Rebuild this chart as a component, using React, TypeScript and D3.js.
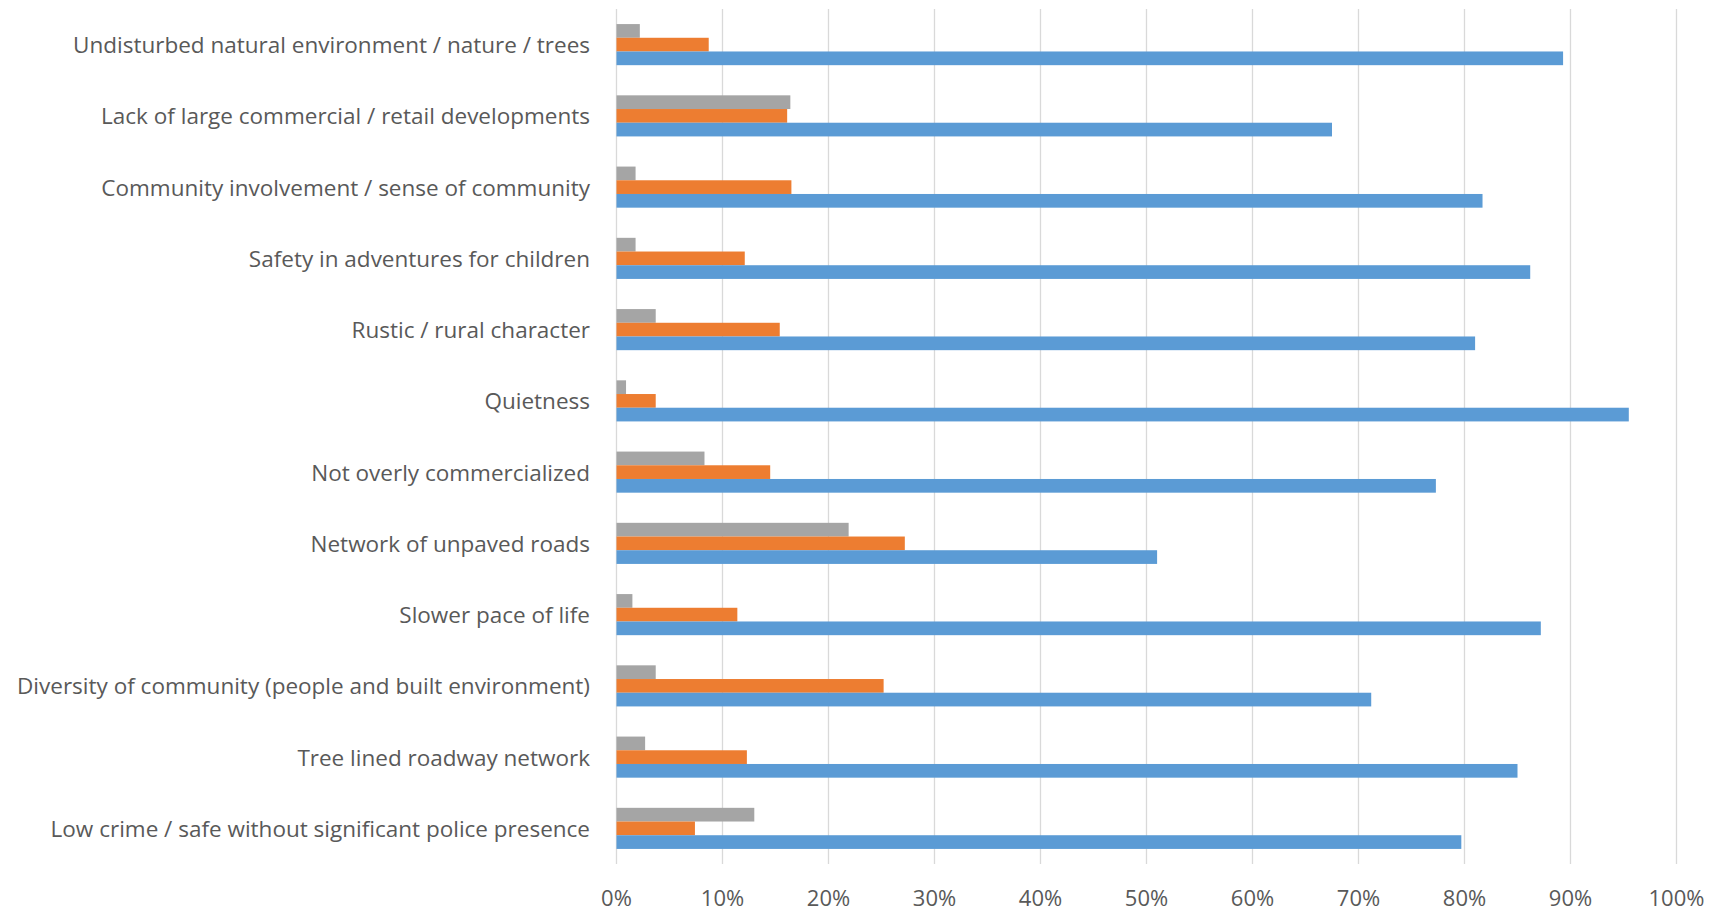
import React from "react";
import * as d3 from "d3";

const categories: string[] = [
  "Undisturbed natural environment / nature / trees",
  "Lack of large commercial / retail developments",
  "Community involvement / sense of community",
  "Safety in adventures for children",
  "Rustic / rural character",
  "Quietness",
  "Not overly commercialized",
  "Network of unpaved roads",
  "Slower pace of life",
  "Diversity of community (people and built environment)",
  "Tree lined roadway network",
  "Low crime / safe without significant police presence",
];

const blueValues: number[] = [89.3, 67.5, 81.7, 86.2, 81.0, 95.5, 77.3, 51.0, 87.2, 71.2, 85.0, 79.7];
const orangeValues: number[] = [8.7, 16.1, 16.5, 12.1, 15.4, 3.7, 14.5, 27.2, 11.4, 25.2, 12.3, 7.4];
const grayValues: number[] = [2.2, 16.4, 1.8, 1.8, 3.7, 0.9, 8.3, 21.9, 1.5, 3.7, 2.7, 13.0];

const tickValues: number[] = [0, 10, 20, 30, 40, 50, 60, 70, 80, 90, 100];
const tickLabels: string[] = ["0%", "10%", "20%", "30%", "40%", "50%", "60%", "70%", "80%", "90%", "100%"];

const seriesKeys = ["gray", "orange", "blue"];
const seriesColors: Record<string, string> = { gray: "#A5A5A5", orange: "#ED7D31", blue: "#5B9BD5" };
const seriesData: Record<string, number[]> = { gray: grayValues, orange: orangeValues, blue: blueValues };

export default function App() {
  const W = 1725, H = 912;
  const x = d3.scaleLinear().domain([0, 100]).range([616.5, 1676.5]);
  const y = d3.scaleBand<string>().domain(categories).range([9, 864]).paddingInner(0).paddingOuter(0);
  const band = y.bandwidth();
  const barH = 13.7;
  const groupH = barH * 3;
  const sub = d3.scaleBand<string>().domain(seriesKeys).range([0, groupH]);
  const font = "'Open Sans', 'Noto Sans', sans-serif";
  const textColor = "#595959";

  return (
    <svg width={W} height={H} style={{ position: "absolute", left: 0, top: 0, background: "#fff" }}>
      <rect x={0} y={0} width={W} height={H} fill="#fff" />
      {tickValues.map((t) => (
        <line key={"g" + t} x1={x(t)} x2={x(t)} y1={9} y2={864} stroke="#D9D9D9" strokeWidth={1.3} />
      ))}
      {categories.map((c, i) => {
        const y0 = (y(c) as number) + (band - groupH) / 2;
        return (
          <g key={c}>
            {seriesKeys.map((k) => (
              <rect
                key={k}
                x={x(0)}
                y={y0 + (sub(k) as number)}
                width={x(seriesData[k][i]) - x(0)}
                height={sub.bandwidth()}
                fill={seriesColors[k]}
              />
            ))}
            <text
              x={590}
              y={(y(c) as number) + band / 2}
              textAnchor="end"
              dominantBaseline="central"
              fontFamily={font}
              fontSize={22.5}
              fill={textColor}
            >
              {c}
            </text>
          </g>
        );
      })}
      {tickValues.map((t, i) => (
        <text
          key={"t" + t}
          x={x(t)}
          y={897}
          textAnchor="middle"
          dominantBaseline="central"
          fontFamily={font}
          fontSize={22}
          fill={textColor}
        >
          {tickLabels[i]}
        </text>
      ))}
    </svg>
  );
}
